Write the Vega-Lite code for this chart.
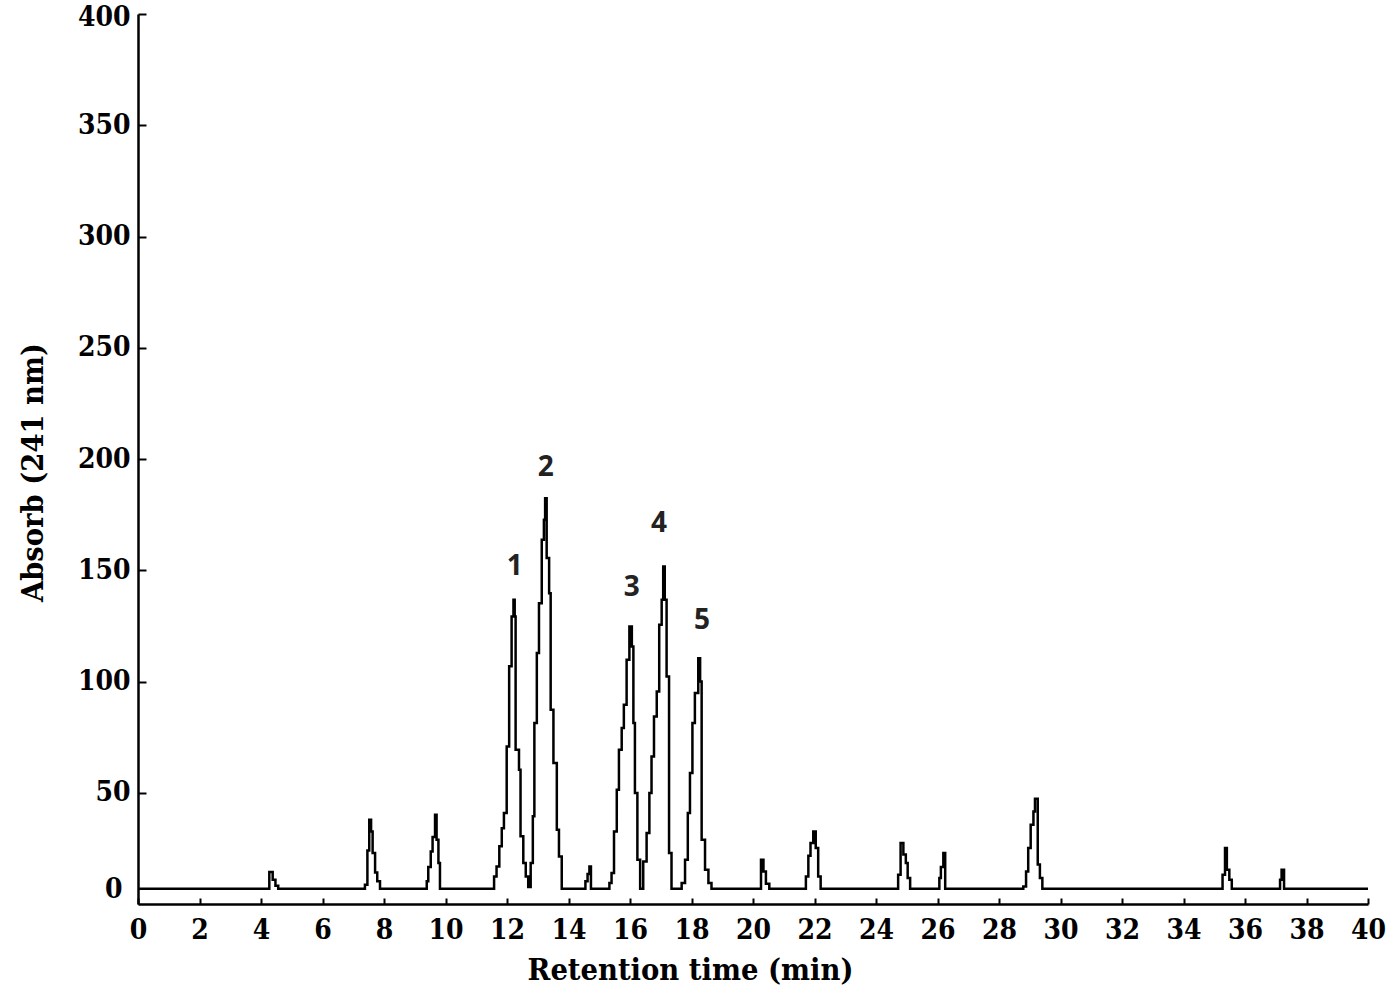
{
  "$schema": "https://vega.github.io/schema/vega-lite/v6.json",
  "width": 1230,
  "height": 890,
  "autosize": {"type": "none"},
  "padding": {"left": 138, "top": 14, "right": 32, "bottom": 93},
  "background": "white",
  "config": {
    "view": {"stroke": null},
    "axis": {
      "grid": false,
      "domainColor": "black",
      "domainWidth": 2.5,
      "tickColor": "black",
      "tickWidth": 2,
      "labelColor": "black",
      "labelFont": "DejaVu Serif Condensed, DejaVu Serif",
      "labelFontWeight": "bold",
      "labelFontSize": 28,
      "titleColor": "black",
      "titleFont": "DejaVu Serif Condensed, DejaVu Serif",
      "titleFontWeight": "bold",
      "titleFontSize": 30.5
    }
  },
  "layer": [
    {
      "data": {
        "values": [
          {"t": 0, "a": 6.9},
          {"t": 4.27, "a": 14.4}, {"t": 4.38, "a": 10.9}, {"t": 4.47, "a": 8.2}, {"t": 4.56, "a": 6.9},
          {"t": 7.38, "a": 8.7}, {"t": 7.46, "a": 24.1}, {"t": 7.52, "a": 37.9}, {"t": 7.58, "a": 32.6}, {"t": 7.63, "a": 22.9}, {"t": 7.71, "a": 14.2}, {"t": 7.78, "a": 10.2}, {"t": 7.87, "a": 6.9},
          {"t": 9.39, "a": 10.2}, {"t": 9.44, "a": 16.6}, {"t": 9.52, "a": 23.6}, {"t": 9.58, "a": 30.1}, {"t": 9.66, "a": 40.1}, {"t": 9.71, "a": 28.9}, {"t": 9.77, "a": 18.4}, {"t": 9.82, "a": 6.9},
          {"t": 11.58, "a": 12.4}, {"t": 11.66, "a": 16.9}, {"t": 11.75, "a": 25.9}, {"t": 11.83, "a": 34.1}, {"t": 11.9, "a": 40.9}, {"t": 11.99, "a": 70.8}, {"t": 12.07, "a": 106.8}, {"t": 12.15, "a": 129.2}, {"t": 12.21, "a": 136.7}, {"t": 12.25, "a": 129.2}, {"t": 12.28, "a": 69.3}, {"t": 12.39, "a": 60.3}, {"t": 12.44, "a": 30.4}, {"t": 12.53, "a": 18.4}, {"t": 12.61, "a": 12.4}, {"t": 12.69, "a": 7.6},
          {"t": 12.77, "a": 18.4}, {"t": 12.84, "a": 39.4}, {"t": 12.89, "a": 81.3}, {"t": 12.97, "a": 112.8}, {"t": 13.04, "a": 135.2}, {"t": 13.13, "a": 163.7}, {"t": 13.2, "a": 172.7}, {"t": 13.24, "a": 182.4}, {"t": 13.29, "a": 155.5}, {"t": 13.37, "a": 139.7}, {"t": 13.42, "a": 87.3}, {"t": 13.51, "a": 63.4}, {"t": 13.62, "a": 33.4}, {"t": 13.69, "a": 21.4}, {"t": 13.78, "a": 6.9},
          {"t": 14.55, "a": 10.2}, {"t": 14.62, "a": 13.5}, {"t": 14.68, "a": 16.9}, {"t": 14.73, "a": 6.9},
          {"t": 15.33, "a": 9.4}, {"t": 15.4, "a": 13.9}, {"t": 15.48, "a": 32.6}, {"t": 15.57, "a": 51.4}, {"t": 15.64, "a": 69.3}, {"t": 15.73, "a": 79.1}, {"t": 15.8, "a": 89.5}, {"t": 15.89, "a": 109.8}, {"t": 15.98, "a": 124.7}, {"t": 16.06, "a": 115.7}, {"t": 16.11, "a": 81.3}, {"t": 16.16, "a": 49.9}, {"t": 16.24, "a": 19.9}, {"t": 16.33, "a": 6.9},
          {"t": 16.43, "a": 19.1}, {"t": 16.54, "a": 31.9}, {"t": 16.63, "a": 49.9}, {"t": 16.7, "a": 66.3}, {"t": 16.78, "a": 84.3}, {"t": 16.87, "a": 95.5}, {"t": 16.95, "a": 125.5}, {"t": 17.03, "a": 136.7}, {"t": 17.08, "a": 151.7}, {"t": 17.13, "a": 136.7}, {"t": 17.19, "a": 102.3}, {"t": 17.27, "a": 22.9}, {"t": 17.35, "a": 6.9},
          {"t": 17.68, "a": 9.4}, {"t": 17.79, "a": 19.9}, {"t": 17.88, "a": 40.9}, {"t": 17.95, "a": 58.9}, {"t": 18.03, "a": 81.3}, {"t": 18.11, "a": 94.8}, {"t": 18.22, "a": 110.5}, {"t": 18.28, "a": 100.0}, {"t": 18.33, "a": 28.9}, {"t": 18.44, "a": 15.4}, {"t": 18.55, "a": 9.4}, {"t": 18.65, "a": 6.9},
          {"t": 20.26, "a": 19.9}, {"t": 20.34, "a": 14.6}, {"t": 20.42, "a": 9.1}, {"t": 20.53, "a": 6.9},
          {"t": 21.72, "a": 12.4}, {"t": 21.8, "a": 21.7}, {"t": 21.87, "a": 27.4}, {"t": 21.96, "a": 32.6}, {"t": 22.04, "a": 25.2}, {"t": 22.12, "a": 12.4}, {"t": 22.2, "a": 6.9},
          {"t": 24.72, "a": 13.2}, {"t": 24.8, "a": 27.4}, {"t": 24.89, "a": 22.2}, {"t": 24.97, "a": 18.4}, {"t": 25.03, "a": 11.7}, {"t": 25.11, "a": 6.9},
          {"t": 26.06, "a": 11.7}, {"t": 26.11, "a": 16.6}, {"t": 26.19, "a": 22.9}, {"t": 26.25, "a": 6.9},
          {"t": 28.79, "a": 7.9}, {"t": 28.88, "a": 14.6}, {"t": 28.95, "a": 25.2}, {"t": 29.03, "a": 35.6}, {"t": 29.12, "a": 41.6}, {"t": 29.17, "a": 47.3}, {"t": 29.26, "a": 17.7}, {"t": 29.33, "a": 11.7}, {"t": 29.41, "a": 6.9},
          {"t": 35.27, "a": 13.2}, {"t": 35.35, "a": 25.2}, {"t": 35.41, "a": 15.4}, {"t": 35.49, "a": 10.9}, {"t": 35.57, "a": 6.9},
          {"t": 37.14, "a": 10.9}, {"t": 37.19, "a": 15.4}, {"t": 37.27, "a": 6.9},
          {"t": 40, "a": 6.9}
        ]
      },
      "mark": {"type": "line", "interpolate": "step-after", "color": "black", "strokeWidth": 2.5},
      "encoding": {
        "x": {
          "field": "t", "type": "quantitative",
          "scale": {"domain": [0, 40], "nice": false},
          "axis": {
            "title": "Retention time (min)",
            "values": [0,1,2,3,4,5,6,7,8,9,10,11,12,13,14,15,16,17,18,19,20,21,22,23,24,25,26,27,28,29,30,31,32,33,34,35,36,37,38,39,40],
            "labelExpr": "datum.value % 2 === 0 ? datum.label : ''",
            "labelOverlap": false,
            "labelFlush": false,
            "tickSize": -6,
            "labelPadding": 18,
            "titleX": 552,
            "titleY": 66,
            "titleBaseline": "middle",
            "titleAlign": "center"
          }
        },
        "y": {
          "field": "a", "type": "quantitative",
          "scale": {"domain": [0, 400], "nice": false},
          "axis": {
            "title": "Absorb (241 nm)",
            "values": [0, 50, 100, 150, 200, 250, 300, 350, 400],
            "labelOverlap": false,
            "labelFlush": false,
            "tickSize": {"condition": {"test": "datum.value === 0", "value": 0}, "value": -8},
            "labelOffset": {"expr": "datum.value === 0 ? -15 : (datum.value === 400 ? 3 : 0)"},
            "labelPadding": 16,
            "titleAngle": -90,
            "titleX": -105,
            "titleY": 458,
            "titleBaseline": "middle",
            "titleAlign": "center"
          }
        }
      }
    },
    {
      "data": {
        "values": [
          {"n": "1", "t": 12.25, "a": 151.5},
          {"n": "2", "t": 13.26, "a": 196.0},
          {"n": "3", "t": 16.06, "a": 142.1},
          {"n": "4", "t": 16.94, "a": 170.8},
          {"n": "5", "t": 18.34, "a": 127.3}
        ]
      },
      "mark": {"type": "text", "font": "Open Sans", "fontWeight": "bold", "fontSize": 28, "color": "#222222", "baseline": "middle", "align": "center"},
      "encoding": {
        "x": {"field": "t", "type": "quantitative"},
        "y": {"field": "a", "type": "quantitative"},
        "text": {"field": "n"}
      }
    }
  ]
}
